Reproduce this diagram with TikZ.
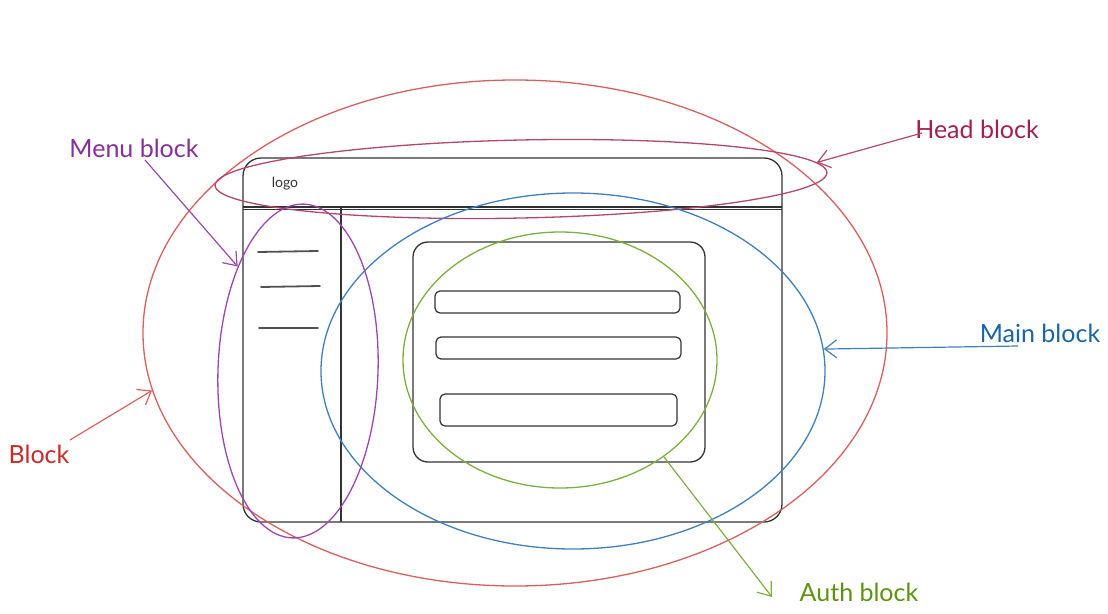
\documentclass[tikz,border=0pt]{standalone}
\usepackage{fontspec}
\setmainfont{Lato}
\usetikzlibrary{arrows.meta,shapes.geometric}
\definecolor{cred}{HTML}{D9605C}
\definecolor{credt}{HTML}{C92A2A}
\definecolor{chead}{HTML}{B5476E}
\definecolor{cheadt}{HTML}{A61E4D}
\definecolor{cpurple}{HTML}{9C46B0}
\definecolor{cpurplet}{HTML}{862E9C}
\definecolor{cblue}{HTML}{3F7FBF}
\definecolor{cbluet}{HTML}{1864AB}
\definecolor{cgreen}{HTML}{7CAF42}
\definecolor{cgreent}{HTML}{5C940D}
\definecolor{cframe}{HTML}{333333}
\tikzset{
  frame/.style={draw=cframe, line width=1.3pt},
  menuline/.style={draw=cframe!85, line width=1.8pt, line cap=round},
  field/.style={draw=cframe, line width=1.2pt, rounded corners=5pt},
  hl/.style={draw=#1, line width=1.3pt, shape=ellipse, inner sep=0pt, fill=none},
  lbl/.style={font=\fontsize{25}{30}\selectfont, text=#1, inner sep=0pt},
  pointer/.style={draw=#1, line width=1.2pt, -{Straight Barb[length=12pt,width=18pt,line width=1.2pt]}},
}
\begin{document}
\begin{tikzpicture}[x=1pt,y=-1pt]
\useasboundingbox (0,0) rectangle (1108,613);
% main frame
\draw[frame, rounded corners=18pt] (243,158) rectangle (782,522);
\draw[frame] (243,207) -- (782,207);
\draw[frame, line width=0.6pt] (243,209.5) -- (782,209.5);
\draw[frame] (341,207) -- (341,522);
\node[font=\fontsize{14}{16}\selectfont, text=cframe] (logo) at (285,184) {logo};
% menu items
\draw[menuline] (258,252) -- (318,251);
\draw[menuline] (261,287) -- (320,286);
\draw[menuline] (259,328) -- (318,328);
% auth panel
\draw[frame, rounded corners=15pt] (413,242) rectangle (705,462);
\draw[field] (435,291) rectangle (680,313);
\draw[field] (436,337) rectangle (681,359);
\draw[field] (440,394) rectangle (677,426);
% highlight ellipses
\node[hl=cred, minimum width=744pt, minimum height=506pt] (blockE) at (515,333) {};
\node[hl=chead, minimum width=612pt, minimum height=78pt, rotate=1.2] (headE) at (521,179) {};
\node[hl=cblue, minimum width=504pt, minimum height=356pt] (mainE) at (573,371) {};
\node[hl=cgreen, minimum width=314pt, minimum height=256pt] (authE) at (560,360) {};
\node[hl=cpurple, minimum width=160pt, minimum height=334pt, rotate=-2] (menuE) at (298,371) {};
% labels
\node[lbl=credt] (blockL) at (39,454) {Block};
\node[lbl=cpurplet] (menuL) at (134,148) {Menu block};
\node[lbl=cheadt] (headL) at (977,129) {Head block};
\node[lbl=cbluet] (mainL) at (1040,333) {Main block};
\node[lbl=cgreent] (authL) at (859,592) {Auth block};
% connector ends
\coordinate (blockS) at (70,440);
\coordinate (menuS) at (145,160);
\coordinate (headS) at (922,133);
\coordinate (mainS) at (1018,346);
\coordinate (authT) at (772,597);
% pointers
\draw[pointer=cred] (blockS) -- (blockE.189.3);
\draw[pointer=cpurple] (menuS) -- (menuE.122.8);
\draw[pointer=chead] (headS) -- (headE.2);
\draw[pointer=cblue] (mainS) -- (mainE.5.7);
\draw[pointer=cgreen] (authE.-43) -- (authT);
\end{tikzpicture}
\end{document}
